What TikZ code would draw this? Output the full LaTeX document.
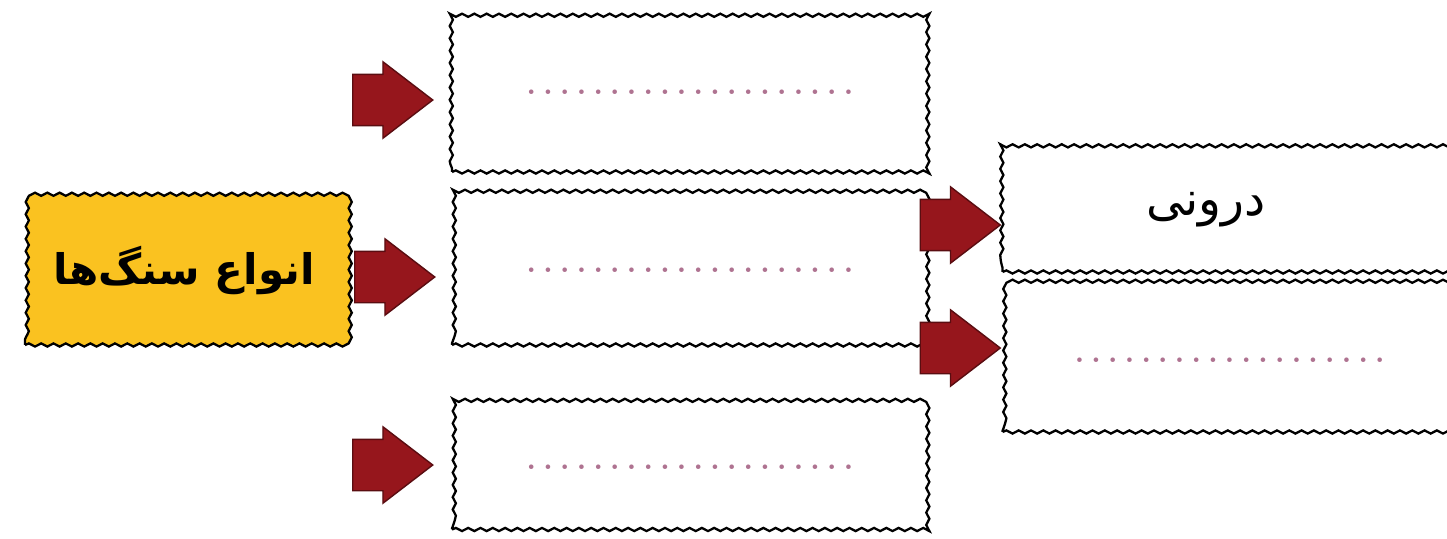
\documentclass[tikz,border=0pt]{standalone}
\usepackage{fontspec}
\newfontfamily\farsifont[Script=Arabic]{DejaVu Sans}
\TeXXeTstate=1
\usetikzlibrary{positioning, shapes.arrows, decorations.pathmorphing}
\usepackage{xcolor}
\definecolor{stoneyellow}{RGB}{250,194,32}
\definecolor{arrowred}{RGB}{150,22,28}
\definecolor{dotpink}{RGB}{175,115,145}

% a row of dots to be filled in
\newcommand{\blankrow}[1]{\hbox to #1{\leaders\hbox to 9.5pt{\hss.\hss}\hfill}}

\begin{document}
\begin{tikzpicture}[
    x=0.02cm, y=-0.02cm,
    every node/.style={font=\farsifont},
    wavybox/.style={
        draw=black,
        line width=1.3pt,
        fill=#1,
        decorate,
        decoration={snake, amplitude=0.9pt, segment length=7pt},
        inner sep=0pt,
    },
    wavybox/.default=white,
    blockarrow/.style={
        single arrow,
        fill=arrowred,
        draw=arrowred!60!black,
        line width=0.8pt,
        minimum height=1.6cm,
        inner xsep=0pt,
        inner ysep=0.5cm,
        single arrow head extend=0.25cm,
        single arrow tip angle=75,
    },
    dotrow/.style={text=dotpink, font=\fontsize{18}{20}\selectfont\bfseries},
]
\useasboundingbox (0,0) rectangle (1447,538);
\clip (0,0) rectangle (1447,538);

\node[wavybox=stoneyellow, minimum width=6.36cm, minimum height=3cm] (kinds) at (184,270)
    {\fontsize{24}{28}\selectfont\bfseries\beginR انواع سنگ‌ها\endR};

% first column
\node[wavybox, minimum width=9.52cm, minimum height=3.2cm] (first) at (690,92) {};
\node[wavybox, minimum width=9.52cm, minimum height=3cm] (second) at (690,270) {};
\node[wavybox, minimum width=9.52cm, minimum height=2.5cm] (third) at (690,467) {};

% second column
\node[wavybox, minimum width=9.14cm, minimum height=2.48cm] (inner) at (1231,210)
    {\fontsize{27}{30}\selectfont\beginR درونی\endR\hspace*{1cm}};
\node[wavybox, minimum width=9.14cm, minimum height=2.88cm] (outer) at (1231,360) {};

% dotted blanks
\node[dotrow] (firstblank) at (first) {\blankrow{190pt}};
\node[dotrow] (secondblank) at (second) {\blankrow{190pt}};
\node[dotrow] (thirdblank) at (third) {\blankrow{190pt}};
\node[dotrow] (outerblank) at (outer) {\blankrow{182pt}};

% block arrows
\node[blockarrow, left=3.4mm of first.west, yshift=-1.6mm] (tofirst) {};
\node[blockarrow, left=3mm of second.west, yshift=-1.4mm] (tosecond) {};
\node[blockarrow, left=3.4mm of third.west, yshift=0.4mm] (tothird) {};
\node[blockarrow, left=0mm of inner.west, yshift=-3mm] (toinner) {};
\node[blockarrow, left=0mm of outer.west, yshift=2.4mm] (toouter) {};

\end{tikzpicture}
\end{document}
